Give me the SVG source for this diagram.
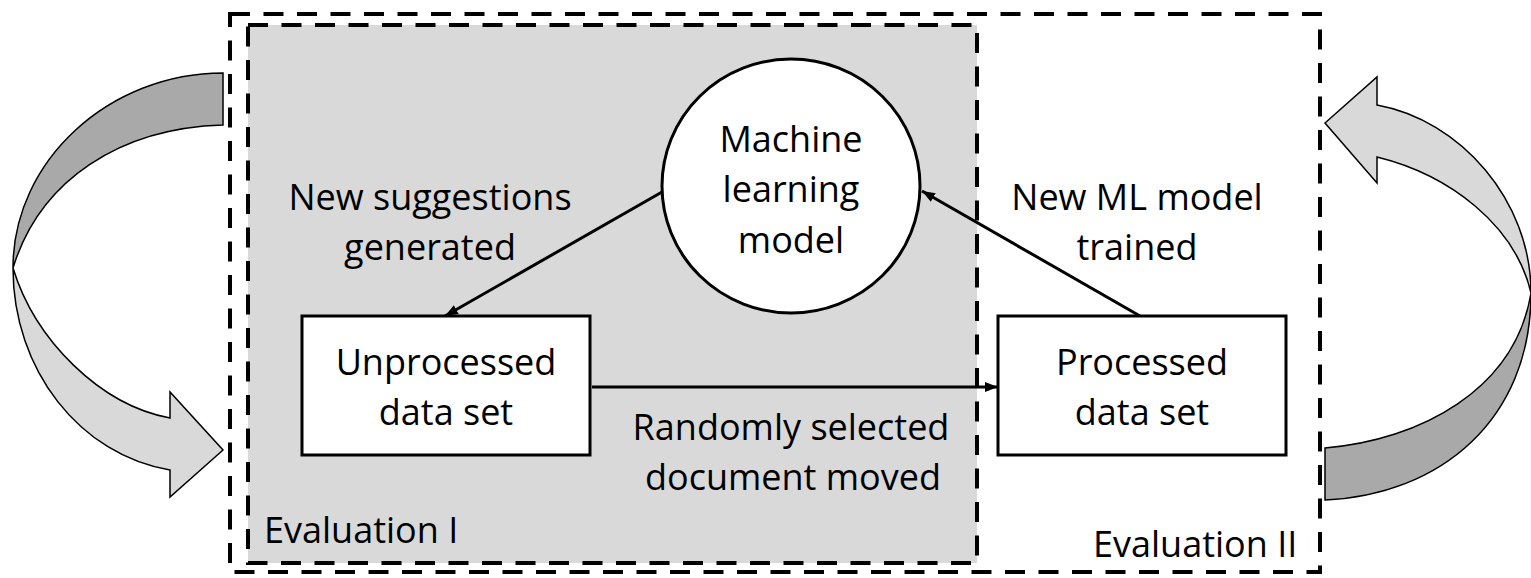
<svg xmlns="http://www.w3.org/2000/svg" width="1531" height="578" viewBox="0 0 1531 578">
<defs>
<style>
.t{font-family:"Open Sans","Liberation Sans",sans-serif;font-size:36px;fill:#000;text-anchor:middle}
.tl{font-family:"Open Sans","Liberation Sans",sans-serif;font-size:36px;fill:#000}
.dash{fill:none;stroke:#000;stroke-width:4;stroke-dasharray:20 13.5}
.box{fill:#fff;stroke:#000;stroke-width:3}
.conn{fill:none;stroke:#000;stroke-width:3}
.dark{fill:#a9a9a9;stroke:#000;stroke-width:1.5;stroke-linejoin:miter}
.light{fill:#d9d9d9;stroke:#000;stroke-width:1.5;stroke-linejoin:miter}
</style>
<marker id="ah" markerUnits="userSpaceOnUse" markerWidth="14" markerHeight="12" refX="13" refY="6" orient="auto">
<path d="M0,1 L13,6 L0,11 z" fill="#000"/>
</marker>
</defs>
<g id="evaluation-2">
<rect x="230" y="14" width="1090" height="558" class="dash"/>
<text class="tl" x="1093" y="557">Evaluation II</text>
</g>
<g id="evaluation-1">
<rect x="248" y="25" width="729" height="538" fill="#d9d9d9"/>
<rect x="248" y="25" width="729" height="538" class="dash"/>
<text class="tl" x="264" y="543">Evaluation I</text>
</g>
<g id="left-cycle-arrow">
<path class="dark" d="M223,73 C110,73 13,160 13,268 C40,180 120,128 223,125 Z"/>
<path class="light" d="M13,268 C13,370 80,455 170,470 L170,497 L223,450 L170,392 L170,418 C100,405 35,340 13,268 Z"/>
</g>
<g id="right-cycle-arrow">
<path class="light" d="M1531,293 C1531,200 1460,120 1377,105 L1377,77 L1325,123 L1377,183 L1377,157 C1450,175 1515,225 1531,293 Z"/>
<path class="dark" d="M1531,293 C1531,420 1440,495 1325,500 L1325,448 C1420,440 1515,390 1531,293 Z"/>
</g>
<g id="connectors">
<line class="conn" x1="662" y1="192" x2="445" y2="316" marker-end="url(#ah)"/>
<line class="conn" x1="1140" y1="316" x2="922" y2="191" marker-end="url(#ah)"/>
<line class="conn" x1="592" y1="387" x2="998" y2="387" marker-end="url(#ah)"/>
<text class="t" x="430" y="210">New suggestions</text>
<text class="t" x="430" y="260">generated</text>
<text class="t" x="1137" y="210">New ML model</text>
<text class="t" x="1137" y="260">trained</text>
<text class="t" x="791" y="440">Randomly selected</text>
<text class="t" x="793" y="490">document moved</text>
</g>
<g id="ml-model">
<ellipse cx="791" cy="186" rx="129" ry="127" class="box"/>
<text class="t" x="791" y="152">Machine</text>
<text class="t" x="791" y="202">learning</text>
<text class="t" x="791" y="253">model</text>
</g>
<g id="unprocessed">
<rect x="302" y="316" width="288" height="139" class="box"/>
<text class="t" x="446" y="375">Unprocessed</text>
<text class="t" x="446" y="425">data set</text>
</g>
<g id="processed">
<rect x="998" y="316" width="288" height="139" class="box"/>
<text class="t" x="1142" y="375">Processed</text>
<text class="t" x="1142" y="425">data set</text>
</g>
</svg>
